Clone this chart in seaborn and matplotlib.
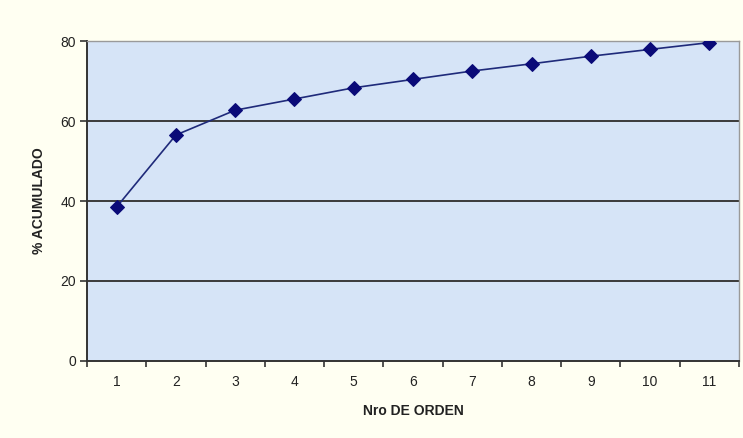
import matplotlib
matplotlib.use("Agg")
import matplotlib.pyplot as plt
import seaborn as sns
import pandas as pd
import numpy as np

orden = [1, 2, 3, 4, 5, 6, 7, 8, 9, 10, 11]
acumulado = [38.5, 56.5, 62.7, 65.5, 68.3, 70.4, 72.5, 74.3, 76.2, 77.9, 79.6]
y_ticks = [0, 20, 40, 60, 80]

sns.set_theme(style="white")
plt.rcParams['font.family'] = ['Liberation Sans', 'DejaVu Sans']

df = pd.DataFrame({"orden": orden, "acumulado": acumulado})

fig = plt.figure(figsize=(7.43, 4.38), dpi=100)
fig.patch.set_facecolor("#FFFFF2")
ax = fig.add_axes([87/743, 1-361/438, (739-87)/743, (361-41)/438])
ax.set_facecolor("#D6E4F7")

for yv in y_ticks[1:]:
    ax.axhline(yv, color="#3a3a3a", lw=1.4, zorder=1)

sns.lineplot(data=df, x="orden", y="acumulado", ax=ax, color="#1F2A7A",
             lw=1.2, marker="D", markersize=7, markerfacecolor="#0A0A78",
             markeredgecolor="#0A0A78", zorder=3)

ax.set_xlim(0.5, 11.5)
ax.set_ylim(0, 80)
ax.set_yticks(y_ticks)
ax.set_yticklabels([str(v) for v in y_ticks], fontsize=10, color="#222222")
ax.set_xticks(np.arange(0.5, 12, 1.0))
ax.set_xticklabels([])
ax.set_xticks(orden, minor=True)
ax.set_xticklabels([str(v) for v in orden], minor=True, fontsize=10, color="#222222")
ax.tick_params(axis="x", which="minor", length=0, pad=10)
ax.tick_params(axis="x", which="major", direction="out", length=4, width=1.2, color="#333333", bottom=True)
ax.tick_params(axis="y", direction="out", length=5, width=1.2, color="#333333", left=True, pad=3)

for side in ["left", "bottom"]:
    ax.spines[side].set_color("#333333")
    ax.spines[side].set_linewidth(1.4)
for side in ["top", "right"]:
    ax.spines[side].set_color("#9a9a9a")
    ax.spines[side].set_linewidth(1.0)

ax.set_xlabel("Nro DE ORDEN", fontsize=10, fontweight="bold", color="#222222", labelpad=11)
ax.set_ylabel("% ACUMULADO", fontsize=10, fontweight="bold", color="#222222", labelpad=10)

fig.savefig("out.png", dpi=100, facecolor=fig.get_facecolor())
